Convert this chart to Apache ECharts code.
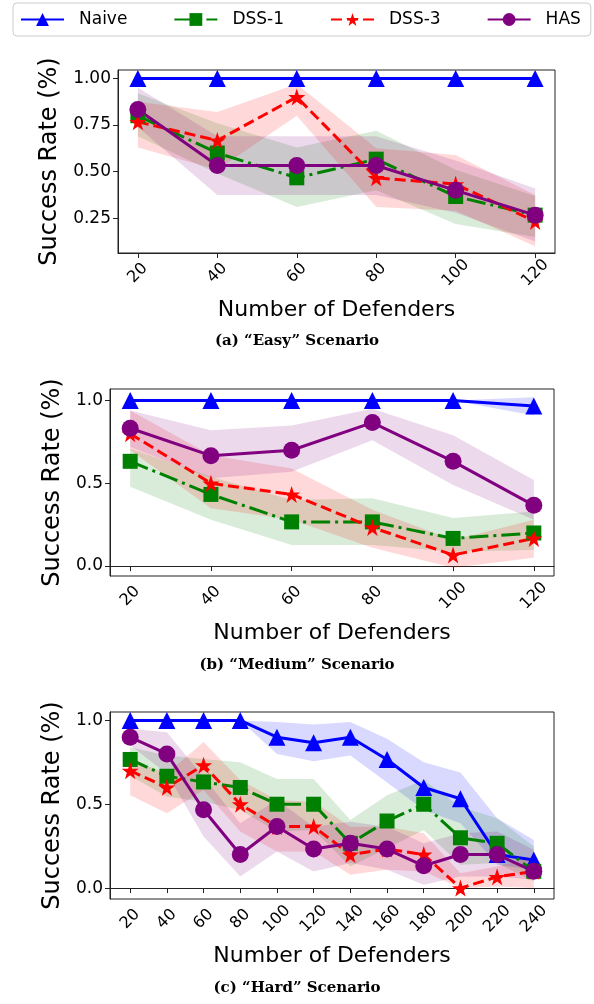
<!DOCTYPE html>
<html>
<head>
<meta charset="utf-8">
<script src="https://cdn.jsdelivr.net/npm/echarts@6/dist/echarts.min.js"></script>
<style>
  html, body { margin: 0; padding: 0; background: #fff; }
  #chart { width: 594px; height: 1004px; }
</style>
</head>
<body>
<div id="chart"></div>
<script>
// defenders on the x axis
var defendersAB = [20, 40, 60, 80, 100, 120];
var defendersC = [20, 40, 60, 80, 100, 120, 140, 160, 180, 200, 220, 240];

// (a) easy
var easyNaive = [1, 1, 1, 1, 1, 1];
var easyDss1 = [0.8, 0.6, 0.467, 0.567, 0.367, 0.267];
var easyDss3 = [0.767, 0.667, 0.9, 0.467, 0.433, 0.233];
var easyHas = [0.833, 0.533, 0.533, 0.533, 0.4, 0.267];
var easyDss1Hi = [0.92, 0.76, 0.63, 0.72, 0.51, 0.37];
var easyDss1Lo = [0.69, 0.49, 0.31, 0.40, 0.22, 0.15];
var easyDss3Hi = [0.875, 0.82, 0.97, 0.625, 0.59, 0.375];
var easyDss3Lo = [0.63, 0.51, 0.80, 0.31, 0.29, 0.10];
var easyHasHi = [0.95, 0.69, 0.69, 0.69, 0.56, 0.41];
var easyHasLo = [0.74, 0.375, 0.375, 0.375, 0.28, 0.125];

// (b) medium
var medNaive = [1, 1, 1, 1, 1, 0.967];
var medDss1 = [0.633, 0.433, 0.267, 0.267, 0.167, 0.2];
var medDss3 = [0.8, 0.5, 0.433, 0.233, 0.067, 0.167];
var medHas = [0.833, 0.667, 0.7, 0.867, 0.633, 0.367];
var medNaiveHi = [1, 1, 1, 1, 1, 1.02];
var medNaiveLo = [1, 1, 1, 1, 1, 0.91];
var medDss1Hi = [0.71, 0.54, 0.40, 0.41, 0.29, 0.33];
var medDss1Lo = [0.48, 0.28, 0.127, 0.127, 0.087, 0.097];
var medDss3Hi = [0.94, 0.67, 0.59, 0.34, 0.157, 0.28];
var medDss3Lo = [0.70, 0.35, 0.28, 0.11, -0.01, 0.05];
var medHasHi = [0.94, 0.82, 0.85, 0.95, 0.79, 0.52];
var medHasLo = [0.72, 0.53, 0.57, 0.76, 0.49, 0.28];

// (c) hard
var hardNaive = [1, 1, 1, 1, 0.9, 0.867, 0.9, 0.767, 0.6, 0.533, 0.2, 0.167];
var hardDss1 = [0.767, 0.667, 0.633, 0.6, 0.5, 0.5, 0.267, 0.4, 0.5, 0.3, 0.267, 0.1];
var hardDss3 = [0.7, 0.6, 0.733, 0.5, 0.367, 0.367, 0.2, 0.233, 0.2, 0, 0.067, 0.1];
var hardHas = [0.9, 0.8, 0.467, 0.2, 0.367, 0.233, 0.267, 0.233, 0.133, 0.2, 0.2, 0.1];
var hardNaiveHi = [1, 1, 1, 1, 0.99, 0.976, 0.99, 0.89, 0.75, 0.69, 0.416, 0.287];
var hardNaiveLo = [1, 1, 1, 1, 0.80, 0.756, 0.79, 0.63, 0.465, 0.386, 0.139, 0.109];
var hardDss1Hi = [0.84, 0.79, 0.77, 0.75, 0.65, 0.65, 0.406, 0.554, 0.644, 0.485, 0.416, 0.248];
var hardDss1Lo = [0.67, 0.545, 0.515, 0.465, 0.337, 0.347, 0.129, 0.238, 0.347, 0.139, 0.149, 0.04];
var hardDss3Hi = [0.77, 0.683, 0.871, 0.644, 0.525, 0.515, 0.366, 0.366, 0.327, 0.089, 0.129, 0.188];
var hardDss3Lo = [0.554, 0.446, 0.584, 0.337, 0.218, 0.218, 0.079, 0.109, 0.099, 0, 0.01, 0];
var hardHasHi = [0.95, 0.93, 0.663, 0.386, 0.525, 0.366, 0.396, 0.366, 0.267, 0.327, 0.337, 0.228];
var hardHasLo = [0.85, 0.683, 0.307, 0.069, 0.218, 0.099, 0.149, 0.109, 0.02, 0.069, 0.069, 0.05];

// tick labels
var yTicksA = [0.25, 0.5, 0.75, 1.0];
var yTicksBC = [0, 0.5, 1.0];

var BLUE = '#0000ff', GREEN = '#008000', RED = '#ff0000', PURPLE = '#800080';
var STAR = 'path://M50,0 L61.8,35.1 L98.1,35.1 L68.8,56.7 L79.4,91 L50,70 L20.6,91 L31.2,56.7 L1.9,35.1 L38.2,35.1 Z';
var FONT = 'DejaVu Sans';

function pairs(xs, ys) {
    var out = [];
    for (var i = 0; i < xs.length; i++) out.push([xs[i], ys[i]]);
    return out;
}

// shaded band between lo and hi
function band(gi, xs, lo, hi, color) {
    return {
        type: 'custom', xAxisIndex: gi, yAxisIndex: gi, z: 1, silent: true,
        data: [[xs[0], lo[0]]],
        renderItem: function (params, api) {
            var pts = [];
            for (var i = 0; i < xs.length; i++) pts.push(api.coord([xs[i], hi[i]]));
            for (var j = xs.length - 1; j >= 0; j--) pts.push(api.coord([xs[j], lo[j]]));
            return { type: 'polygon', shape: { points: pts }, style: { fill: color, opacity: 0.15 } };
        }
    };
}

function line(gi, name, xs, ys, color, symbol, size, dash) {
    return {
        name: name, type: 'line', xAxisIndex: gi, yAxisIndex: gi, z: 3,
        data: pairs(xs, ys), symbol: symbol, symbolSize: size, showAllSymbol: true,
        lineStyle: { color: color, width: 3, type: dash },
        itemStyle: { color: color }
    };
}

function panel(gi, xs, naive, dss1, dss3, has) {
    return [
        line(gi, 'Naive', xs, naive, BLUE, 'triangle', 17, 'solid'),
        line(gi, 'DSS-1', xs, dss1, GREEN, 'rect', 15, [19, 5, 3, 5]),
        line(gi, 'DSS-3', xs, dss3, RED, STAR, 17, [11, 5]),
        line(gi, 'HAS', xs, has, PURPLE, 'circle', 17, 'solid')
    ];
}

function xAxis(gi, min, max, ticks) {
    return {
        type: 'value', gridIndex: gi, min: min, max: max,
        name: 'Number of Defenders', nameLocation: 'middle', nameGap: 46,
        nameTextStyle: { fontFamily: FONT, fontSize: 22, color: '#000' },
        axisLine: { lineStyle: { color: '#222', width: 1 } },
        axisTick: { customValues: ticks, length: 5, lineStyle: { color: '#222' } },
        axisLabel: {
            customValues: ticks, rotate: 45, align: 'center', verticalAlign: 'middle', margin: 20,
            fontFamily: FONT, fontSize: 16, color: '#000'
        },
        splitLine: { show: false }
    };
}

function yAxis(gi, min, max, ticks, digits) {
    return {
        type: 'value', gridIndex: gi, min: min, max: max,
        name: 'Success Rate (%)', nameLocation: 'middle', nameGap: gi === 0 ? 46 : 38,
        nameTextStyle: { fontFamily: FONT, fontSize: 24, color: '#000' },
        axisLine: { show: true, lineStyle: { color: '#222', width: 1 } },
        axisTick: { show: true, customValues: ticks, length: 5, lineStyle: { color: '#222' } },
        axisLabel: {
            customValues: ticks, margin: 7, fontFamily: FONT, fontSize: 17, color: '#000',
            formatter: function (v) { return v.toFixed(digits); }
        },
        splitLine: { show: false }
    };
}

var series = [];
series.push(band(0, defendersAB, easyDss1Lo, easyDss1Hi, GREEN));
series.push(band(0, defendersAB, easyDss3Lo, easyDss3Hi, RED));
series.push(band(0, defendersAB, easyHasLo, easyHasHi, PURPLE));
series = series.concat(panel(0, defendersAB, easyNaive, easyDss1, easyDss3, easyHas));

series.push(band(1, defendersAB, medNaiveLo, medNaiveHi, BLUE));
series.push(band(1, defendersAB, medDss1Lo, medDss1Hi, GREEN));
series.push(band(1, defendersAB, medDss3Lo, medDss3Hi, RED));
series.push(band(1, defendersAB, medHasLo, medHasHi, PURPLE));
series = series.concat(panel(1, defendersAB, medNaive, medDss1, medDss3, medHas));

series.push(band(2, defendersC, hardNaiveLo, hardNaiveHi, BLUE));
series.push(band(2, defendersC, hardDss1Lo, hardDss1Hi, GREEN));
series.push(band(2, defendersC, hardDss3Lo, hardDss3Hi, RED));
series.push(band(2, defendersC, hardHasLo, hardHasHi, PURPLE));
series = series.concat(panel(2, defendersC, hardNaive, hardDss1, hardDss3, hardHas));

var chart = echarts.init(document.getElementById('chart'));
chart.setOption({
    animation: false,
    backgroundColor: '#fff',
    legend: {
        data: ['Naive', 'DSS-1', 'DSS-3', 'HAS'],
        left: 13, top: 3,
        padding: [8, 10, 8, 7],
        itemGap: 46, itemWidth: 43, itemHeight: 16,
        borderColor: '#ccc', borderWidth: 1, borderRadius: 4,
        textStyle: { fontFamily: FONT, fontSize: 17, color: '#000', padding: [0, 0, 0, 10] }
    },
    grid: [
        { left: 118, right: 39, top: 70, height: 183, show: true, borderColor: '#222', borderWidth: 1, backgroundColor: 'transparent' },
        { left: 110, right: 40, top: 389, height: 187, show: true, borderColor: '#222', borderWidth: 1, backgroundColor: 'transparent' },
        { left: 110, right: 40, top: 712, height: 187, show: true, borderColor: '#222', borderWidth: 1, backgroundColor: 'transparent' }
    ],
    xAxis: [
        xAxis(0, 15, 125, defendersAB),
        xAxis(1, 15, 125, defendersAB),
        xAxis(2, 9, 251, defendersC)
    ],
    yAxis: [
        yAxis(0, 0.064, 1.045, yTicksA, 2),
        yAxis(1, -0.06, 1.07, yTicksBC, 1),
        yAxis(2, -0.065, 1.05, yTicksBC, 1)
    ],
    graphic: [
        { type: 'text', left: 'center', top: 334, style: { text: '(a) \u201cEasy\u201d Scenario', font: 'bold 15px "DejaVu Serif"', fill: '#000' } },
        { type: 'text', left: 'center', top: 658, style: { text: '(b) \u201cMedium\u201d Scenario', font: 'bold 15px "DejaVu Serif"', fill: '#000' } },
        { type: 'text', left: 'center', top: 981, style: { text: '(c) \u201cHard\u201d Scenario', font: 'bold 15px "DejaVu Serif"', fill: '#000' } }
    ],
    series: series
});
</script>
</body>
</html>
